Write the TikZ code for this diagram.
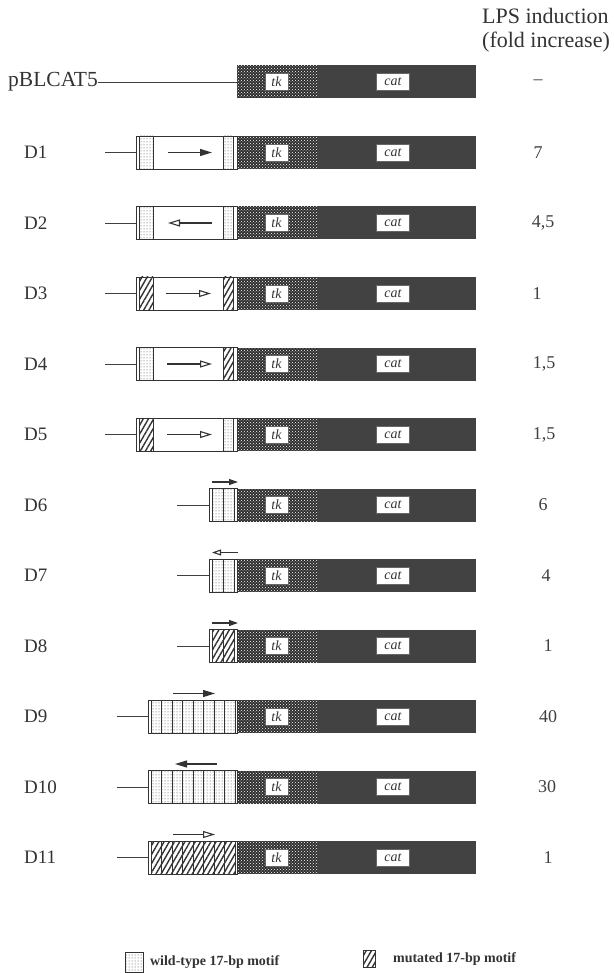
\documentclass[tikz,border=0pt]{standalone}
\usepackage{fontspec}
\setmainfont{Liberation Serif}
\usetikzlibrary{positioning,arrows.meta,patterns,patterns.meta}

\begin{document}
\begin{tikzpicture}[x=1pt,y=-1pt,
  lbl/.style={font=\fontsize{19}{22}\selectfont,text=black!80,anchor=west,inner sep=0pt},
  fold/.style={font=\fontsize{18}{21}\selectfont,text=black!75,inner sep=0pt},
  bar/.style={fill=black!74,minimum width=239,minimum height=33,anchor=west,inner sep=0pt,outer sep=0pt},
  tkzone/.style={fill=black!82,postaction={pattern=crosshatch dots,pattern color=white}},
  tag/.style={fill=white,draw=black!60,line width=0.5pt,inner sep=0pt,minimum height=17,font=\fontsize{14}{16}\selectfont\itshape,text=black!80},
  ins/.style={fill=white,draw=black!80,line width=0.9pt,minimum height=33,anchor=west,inner sep=0pt,outer sep=0pt},
  wt/.style={draw=black!80,line width=0.9pt,pattern=dots,pattern color=black!75},
  mut/.style={draw=black!80,line width=0.9pt,pattern={Lines[angle=60,distance=4.5pt,line width=1.4pt]},pattern color=black!80},
  stem/.style={draw=black!75,line width=0.9pt},
  pfeil/.style={-{Triangle[length=12pt,width=7pt]},line width=1.1pt,draw=black!80},
  pfeilo/.style={-{Triangle[open,length=12pt,width=7pt,fill=white]},line width=1.1pt,draw=black!80},
  pfeilk/.style={-{Triangle[length=9pt,width=6pt]},line width=1.1pt,draw=black!80},
  pfeilko/.style={-{Triangle[open,length=9pt,width=6pt,fill=white]},line width=1.1pt,draw=black!80},
  legtxt/.style={font=\fontsize{14}{16}\bfseries,text=black!80,inner sep=0pt}]
\useasboundingbox[fill=white] (0,0) rectangle (613,973);

% header
\node[anchor=north west,align=left,inner sep=0pt,font=\fontsize{22}{24}\selectfont,text=black!80] (hdr) at (482,8) {LPS induction\\(fold increase)};

% vector backbone, tk and cat, fold values
\foreach \fd/\fx [count=\i from 0] in {--/538, 7/538, {4,5}/543, 1/537, {1,5}/544, {1,5}/544, 6/543, 4/546, 1/548, 40/548, 30/547, 1/548}{
  \pgfmathsetmacro\y{82+70.5*\i}
  \node[bar] (bar\i) at (237,\y) {};
  \path[tkzone] (237,\y-16.5) rectangle (317,\y+16.5);
  \node[tag,minimum width=23] (tk\i) at (276.5,\y) {tk};
  \node[tag,minimum width=33] (cat\i) at (393,\y) {cat};
  \node[fold] (f\i) at (\fx,\y) {\fd};
}

% labels
\node[lbl,font=\fontsize{21.5}{24}\selectfont] (l0) at (8,82) {pBLCAT5};
\draw[stem] (l0.east) -- (bar0.west);
\foreach \i in {1,...,11}
  \node[lbl] (l\i) at (24,82+70.5*\i) {D\i};

% D1-D5: two motifs with spacer
\foreach \i/\ma/\mb/\ta/\tb/\tip in {1/wt/wt/168/212/pfeil, 2/wt/wt/212/168/pfeilo, 3/mut/mut/166/211/pfeilo, 4/wt/mut/167/212/pfeilo, 5/mut/wt/167/212/pfeilo}{
  \pgfmathsetmacro\y{82+70.5*\i}
  \coordinate (s\i) at (105,\y);
  \node[ins,minimum width=101] (in\i) at (136,\y) {};
  \draw[stem] (s\i) -- (in\i.west);
  \draw[\ma] (139.5,\y-16.5) rectangle (153,\y+16.5);
  \draw[\mb] (223,\y-16.5) rectangle (233.5,\y+16.5);
  \coordinate (a\i) at (\ta,\y);
  \coordinate (b\i) at (\tb,\y);
  \draw[\tip] (a\i) -- (b\i);
}

% D6-D8: two adjacent motifs
\foreach \i/\ma/\ta/\tb/\tip in {6/wt/212/238/pfeilk, 7/wt/238/212/pfeilko, 8/mut/212/238/pfeilk}{
  \pgfmathsetmacro\y{82+70.5*\i}
  \coordinate (s\i) at (177,\y);
  \node[ins,minimum width=28] (in\i) at (209,\y) {};
  \draw[stem] (s\i) -- (in\i.west);
  \draw[\ma] (212.5,\y-16.5) rectangle (223.5,\y+16.5);
  \draw[\ma] (223.5,\y-16.5) rectangle (234,\y+16.5);
  \coordinate (a\i) at (\ta,\y-23);
  \coordinate (b\i) at (\tb,\y-23);
  \draw[\tip] (a\i) -- (b\i);
}

% D9-D11: eight motifs
\foreach \i/\ma/\ta/\tb/\tip in {9/wt/173/215/pfeil, 10/wt/217/175/pfeil, 11/mut/173/215/pfeilo}{
  \pgfmathsetmacro\y{82+70.5*\i}
  \coordinate (s\i) at (117,\y);
  \node[ins,minimum width=89] (in\i) at (148,\y) {};
  \draw[stem] (s\i) -- (in\i.west);
  \foreach \k in {0,...,7}
    \draw[\ma] (151+10.5*\k,\y-16.5) rectangle ++(10.5,33);
  \coordinate (a\i) at (\ta,\y-23);
  \coordinate (b\i) at (\tb,\y-23);
  \draw[\tip] (a\i) -- (b\i);
}

% legend
\node[wt,minimum width=18,minimum height=20,inner sep=0pt,anchor=north west] (lw) at (125,952) {};
\node[legtxt,right=6pt of lw] (lwt) {wild-type 17-bp motif};
\node[mut,minimum width=12,minimum height=17,inner sep=0pt,anchor=north west] (lm) at (363,950) {};
\node[legtxt,right=17pt of lm] (lmt) {mutated 17-bp motif};
\end{tikzpicture}
\end{document}
